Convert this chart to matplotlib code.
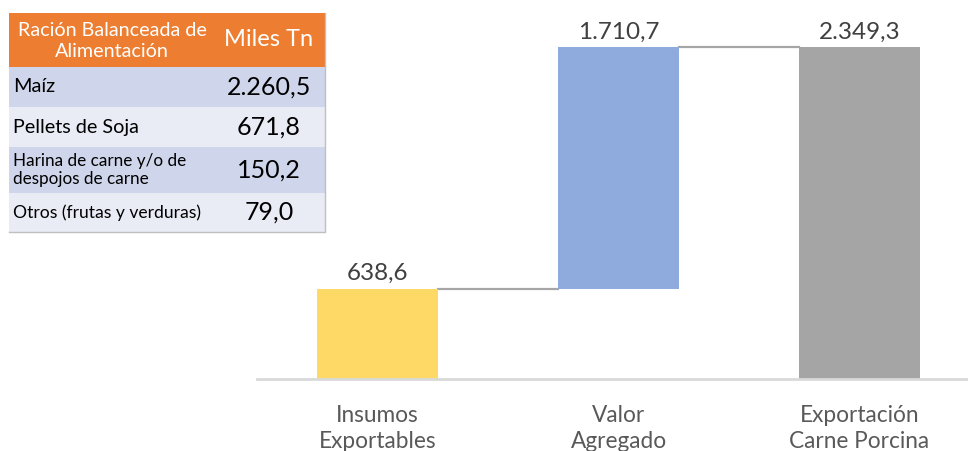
import matplotlib
matplotlib.use("Agg")
import matplotlib.pyplot as plt
from matplotlib.patches import Rectangle

plt.rcParams['font.family'] = ['Lato', 'DejaVu Sans']

# ---- data ----
categories = ["Insumos\nExportables", "Valor\nAgregado", "Exportación\nCarne Porcina"]
values = [638.6, 1710.7, 2349.3]
value_labels = ["638,6", "1.710,7", "2.349,3"]
bar_colors = ["#FFD966", "#8FAADC", "#A5A5A5"]

table_header = ["Ración Balanceada de\nAlimentación", "Miles Tn"]
table_items = ["Maíz", "Pellets de Soja", "Harina de carne y/o de\ndespojos de carne", "Otros (frutas y verduras)"]
table_values = ["2.260,5", "671,8", "150,2", "79,0"]

W, H = 968, 451
fig = plt.figure(figsize=(W / 100, H / 100), dpi=100)

# ---- waterfall axes ----
x0, x1 = 257, 968
y_base = 379
ymax = values[2] * y_base / (y_base - 47)
ax = fig.add_axes([x0 / W, (H - y_base) / H, (x1 - x0) / W, y_base / H])
ax.set_xlim(-0.5, 2.45)
ax.set_ylim(0, ymax)

# first bar from 0, middle bar floats from first total to final total, last bar total
bottoms = [0, values[0], 0]
heights = [values[0], values[2] - values[0], values[2]]
xs = range(len(categories))
ax.bar(xs, heights, bottom=bottoms, width=0.5, color=bar_colors, zorder=2)

# connectors
tops = [values[0], values[2], values[2]]
for i in range(len(categories) - 1):
    ax.plot([i + 0.25, i + 1 - 0.25], [tops[i], tops[i]], color="#A6A6A6", lw=1.6, zorder=1)

for i, lab in enumerate(value_labels):
    ax.text(i, tops[i] + ymax * 0.012, lab, ha="center", va="bottom", fontsize=17.5, color="#404040")

for s in ["top", "right", "left"]:
    ax.spines[s].set_visible(False)
ax.spines["bottom"].set_color("#D9D9D9")
ax.spines["bottom"].set_linewidth(2)
ax.set_yticks([])
ax.set_xticks(list(xs))
ax.set_xticklabels(categories, fontsize=16.3, color="#595959", linespacing=1.3)
ax.tick_params(axis="x", length=0, pad=19)

# ---- table (pixel coordinates overlay) ----
tax = fig.add_axes([0, 0, 1, 1])
tax.set_xlim(0, W)
tax.set_ylim(H, 0)
tax.axis("off")

left, right = 9, 325
rows_y = [13, 67, 107, 147, 193, 232]
tax.add_patch(Rectangle((left, rows_y[0]), right - left, rows_y[1] - rows_y[0], color="#ED7D31", lw=0))
row_cols = ["#CFD5EA", "#E9EBF5", "#CFD5EA", "#E9EBF5"]
for i in range(4):
    tax.add_patch(Rectangle((left, rows_y[i + 1]), right - left, rows_y[i + 2] - rows_y[i + 1],
                            color=row_cols[i], lw=0))
tax.plot([right, right, left], [rows_y[0], rows_y[-1], rows_y[-1]], color="#BFBFBF", lw=1)

hy = (rows_y[0] + rows_y[1]) / 2
tax.text(112, hy + 1, table_header[0], ha="center", va="center", color="white", fontsize=14.2, linespacing=1.25)
tax.text(269, hy, table_header[1], ha="center", va="center", color="white", fontsize=17)
item_sizes = [14.3, 14.2, 12.3, 12.6]
for i in range(4):
    cy = (rows_y[i + 1] + rows_y[i + 2]) / 2
    tax.text(13, cy, table_items[i], ha="left", va="center", color="#000000",
             fontsize=item_sizes[i], linespacing=1.2)
    tax.text(269, cy, table_values[i], ha="center", va="center", color="#000000", fontsize=18)

fig.savefig("out.png", dpi=100)
